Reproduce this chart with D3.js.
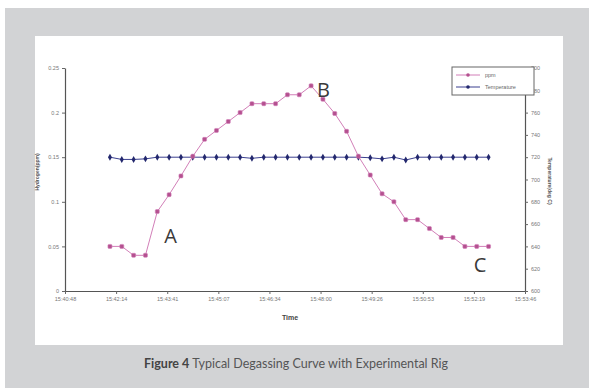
<!DOCTYPE html>
<html>
<head>
<meta charset="utf-8">
<script src="https://cdn.jsdelivr.net/npm/d3@7"></script>
<style>
  body { margin: 0; background: #fff; }
  svg { display: block; }
</style>
</head>
<body>
<svg width="589" height="388"></svg>
<script>
// time of each reading (hh:mm:ss), one every 20 s
const startTime = "15:42:04";
const stepSeconds = 20;
// hydrogen reading (ppm)
const ppm = [
  0.05, 0.05, 0.04, 0.04, 0.089, 0.108, 0.129, 0.151, 0.17, 0.18, 0.19,
  0.2, 0.21, 0.21, 0.21, 0.22, 0.22, 0.23, 0.215, 0.199, 0.179, 0.151,
  0.13, 0.109, 0.1, 0.08, 0.08, 0.07, 0.06, 0.06, 0.05, 0.05, 0.05,
];
// melt temperature (deg C)
const temperature = [
  720, 718, 718, 718.5, 720, 720, 720, 720, 720, 720, 720, 720, 719, 720,
  720, 720, 720, 720, 720, 720, 720, 720, 719.5, 718.5, 720, 717.5, 720,
  720, 720, 720, 720, 720, 720,
];
// axis ticks
const xTickLabels = [
  "15:40:48", "15:42:14", "15:43:41", "15:45:07", "15:46:34",
  "15:48:00", "15:49:26", "15:50:53", "15:52:19", "15:53:46",
];
const leftTicks = [0, 0.05, 0.1, 0.15, 0.2, 0.25];
const rightTicks = [600, 620, 640, 660, 680, 700, 720, 740, 760, 780, 800];
// annotations: index of point, label
const notes = [
  { i: 4, label: "A", dx: 7, dy: 31 },
  { i: 18, label: "B", dx: -6, dy: -2 },
  { i: 31, label: "C", dx: -3, dy: 26 },
];

const toSec = (s) => {
  const [h, m, sec] = s.split(":").map(Number);
  return h * 3600 + m * 60 + sec;
};
const t0 = toSec(startTime);
const times = ppm.map((_, i) => t0 + i * stepSeconds);
const xTickSecs = xTickLabels.map((_, i) => toSec(xTickLabels[0]) + i * 86.4);

const svg = d3.select("svg");
//outer grey frame and white panel
svg.append("rect").attr("x", 5).attr("y", 8).attr("width", 584).attr("height", 380).attr("fill", "#d2d3d5");
svg.append("rect").attr("x", 35).attr("y", 36).attr("width", 528).attr("height", 309).attr("fill", "#fff");

const margin = { top: 68, right: 64, bottom: 97, left: 65 };
const width = 589, height = 388;
const x = d3.scaleLinear()
  .domain([xTickSecs[0], xTickSecs[xTickSecs.length - 1]])
  .range([margin.left, width - margin.right]);
const yL = d3.scaleLinear().domain([0, 0.25]).range([height - margin.bottom, margin.top]);
const yR = d3.scaleLinear().domain([600, 800]).range([height - margin.bottom, margin.top]);

const tickFont = "Liberation Sans, Arial, sans-serif";
const styleAxis = (g) => {
  g.selectAll("path.domain").attr("stroke", "#555").attr("stroke-width", 1.2);
  g.selectAll(".tick line").attr("stroke", "#666");
  g.selectAll(".tick text").attr("fill", "#777").attr("font-size", 5.5).attr("font-family", tickFont);
};

svg.append("g")
  .attr("transform", `translate(0,${height - margin.bottom})`)
  .call(d3.axisBottom(x).tickValues(xTickSecs).tickFormat((d, i) => xTickLabels[i]).tickSize(3).tickSizeOuter(0).tickPadding(3))
  .call(styleAxis);
svg.append("g")
  .attr("transform", `translate(${margin.left},0)`)
  .call(d3.axisLeft(yL).tickValues(leftTicks).tickFormat((d) => (d === 0.05 ? "0.05" : d3.format("~g")(d))).tickSize(3).tickSizeOuter(0).tickPadding(3))
  .call(styleAxis);
svg.append("g")
  .attr("transform", `translate(${width - margin.right},0)`)
  .call(d3.axisRight(yR).tickValues(rightTicks).tickSize(3).tickSizeOuter(0).tickPadding(3))
  .call(styleAxis);

// axis titles
svg.append("text").attr("x", 290).attr("y", 320).attr("text-anchor", "middle")
  .attr("font-family", tickFont).attr("font-size", 7).attr("font-weight", "bold").attr("fill", "#444").text("Time");
svg.append("text").attr("transform", "translate(39,172) rotate(-90)").attr("text-anchor", "middle")
  .attr("font-family", tickFont).attr("font-size", 5).attr("font-weight", "bold").attr("fill", "#555").text("Hydrogen(ppm)");
svg.append("text").attr("transform", "translate(548,181) rotate(90)").attr("text-anchor", "middle")
  .attr("font-family", tickFont).attr("font-size", 5).attr("font-weight", "bold").attr("fill", "#555").text("Temperature(deg C)");

const pink = "#d27fb8", pinkDot = "#b4508f", blue = "#3a3f8f", blueDot = "#23286e";

// temperature series
svg.append("path").datum(temperature)
  .attr("fill", "none").attr("stroke", blue).attr("stroke-width", 1)
  .attr("d", d3.line().x((d, i) => x(times[i])).y((d) => yR(d)));
svg.append("g").selectAll("path").data(temperature).join("path")
  .attr("transform", (d, i) => `translate(${x(times[i])},${yR(d)})`)
  .attr("d", d3.symbol(d3.symbolDiamond, 14))
  .attr("fill", blueDot);

// ppm series
svg.append("path").datum(ppm)
  .attr("fill", "none").attr("stroke", pink).attr("stroke-width", 1)
  .attr("d", d3.line().x((d, i) => x(times[i])).y((d) => yL(d)));
svg.append("g").selectAll("rect").data(ppm).join("rect")
  .attr("x", (d, i) => x(times[i]) - 2).attr("y", (d) => yL(d) - 2)
  .attr("width", 4).attr("height", 4).attr("rx", 1)
  .attr("fill", pinkDot).attr("stroke", pink).attr("stroke-width", 0.6);

// annotation letters
svg.append("g").selectAll("text").data(notes).join("text")
  .attr("x", (d) => x(times[d.i]) + d.dx)
  .attr("y", (d) => yL(ppm[d.i]) + d.dy)
  .attr("font-family", "Open Sans, sans-serif").attr("font-size", 20)
  .attr("fill", "#3a3a3a").text((d) => d.label);

// legend
const lg = svg.append("g").attr("transform", "translate(452,67)");
lg.append("rect").attr("width", 82).attr("height", 28).attr("fill", "#fff").attr("stroke", "#666").attr("stroke-width", 1);
const legendItems = [
  { name: "ppm", line: pink, dot: pinkDot },
  { name: "Temperature", line: blue, dot: blueDot },
];
legendItems.forEach((d, i) => {
  const yy = 8 + i * 12;
  lg.append("line").attr("x1", 4).attr("x2", 28).attr("y1", yy).attr("y2", yy).attr("stroke", d.line);
  lg.append("circle").attr("cx", 16).attr("cy", yy).attr("r", 1.8).attr("fill", d.dot);
  lg.append("text").attr("x", 33).attr("y", yy + 2).attr("font-family", tickFont)
    .attr("font-size", 5.5).attr("fill", "#666").text(d.name);
});

// caption
const cap = svg.append("text").attr("x", 296).attr("y", 368).attr("text-anchor", "middle")
  .attr("font-family", "Lato, Open Sans, sans-serif").attr("font-size", 12.5).attr("fill", "#555");
cap.append("tspan").attr("font-weight", "bold").attr("fill", "#444").text("Figure 4");
cap.append("tspan").text(" Typical Degassing Curve with Experimental Rig");
</script>
</body>
</html>
